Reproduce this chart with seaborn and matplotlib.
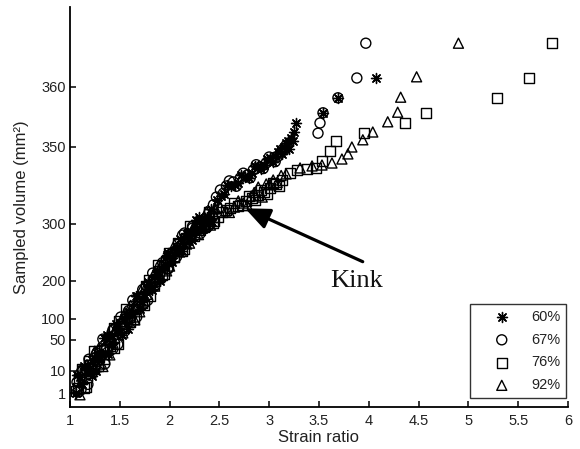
import numpy as np
import pandas as pd
import matplotlib
matplotlib.use("Agg")
import matplotlib.pyplot as plt
import seaborn as sns

# ---------------- data ----------------
labels = ["60%", "67%", "76%", "92%"]

# 60 %
x60 = [1.07, 1.12, 1.17, 1.22, 1.27, 1.32, 1.37, 1.42, 1.47, 1.52, 1.57, 1.62, 1.67, 1.72,
       1.77, 1.82, 1.87, 1.92, 1.97, 2.02, 2.07, 2.12, 2.17, 2.22, 2.27, 2.32, 2.38, 2.43,
       2.48, 2.55, 2.62, 2.69, 2.76, 2.83, 2.89, 2.95, 3.01, 3.06, 3.11, 3.15, 3.19, 3.22,
       3.25, 3.27, 3.54, 3.69, 4.07]
y60 = [8.3, 4.8, 11.0, 7.9, 33.6, 31.4, 61.7, 45.0, 73.3, 62.6, 114.1, 114.1, 161.1, 145.2,
       179.6, 175.5, 215.2, 218.3, 245.2, 239.3, 257.3, 253.1, 282.2, 282.7, 302.7, 297.0, 304.8, 301.6,
       315.6, 319.5, 324.7, 326.6, 330.5, 333.1, 337.7, 338.3, 342.9, 344.2, 348.7, 350.0, 351.0, 351.5,
       352.5, 354.0, 355.7, 358.2, 361.5]
x60_band = [1.06, 1.10, 1.14, 1.18, 1.22, 1.26, 1.30, 1.34, 1.38, 1.42, 1.46, 1.50, 1.54, 1.58,
            1.62, 1.66, 1.70, 1.74, 1.78, 1.82, 1.86, 1.90, 1.94, 1.98, 2.02, 2.06, 2.10, 2.14,
            2.18, 2.22, 2.26, 2.30, 2.34, 2.38, 2.42,
            2.52, 2.58, 2.66, 2.72, 2.80, 2.86, 2.92, 2.98, 3.04, 3.09, 3.13, 3.17, 3.20, 3.24]
y60_band = [1.3, 7.4, 16.9, 11.5, 24.5, 9.9, 27.5, 54.6, 31.3, 59.6, 87.4, 69.5, 102.3, 76.5,
            114.7, 160.4, 125.8, 165.3, 197.3, 183.4, 211.7, 200.2, 223.7, 249.0, 233.2, 254.6, 272.7, 265.0,
            283.7, 271.0, 288.4, 304.8, 291.0, 302.6, 309.9,
            318.5, 325.0, 325.5, 331.5, 329.8, 337.5, 335.5, 342.0, 340.5, 347.0, 345.5, 350.6, 349.0, 351.0]

# 67 %
x67 = [1.08, 1.13, 1.18, 1.23, 1.28, 1.33, 1.38, 1.43, 1.48, 1.53, 1.58, 1.63, 1.68, 1.73,
       1.78, 1.83, 1.88, 1.93, 1.98, 2.03, 2.08, 2.13, 2.18, 2.23, 2.29, 2.34, 2.39, 2.44,
       2.51, 2.57, 2.64, 2.71, 2.78, 2.84, 2.91, 2.97, 3.03, 3.08, 3.13, 3.17, 3.49, 3.51,
       3.54, 3.69, 3.88, 3.97]
y67 = [1.5, 11.3, 4.6, 19.5, 22.6, 52.1, 34.5, 73.8, 44.4, 88.6, 96.4, 149.1, 124.0, 177.0,
       148.8, 197.9, 201.8, 231.9, 220.6, 247.6, 252.9, 280.4, 268.3, 295.8, 293.3, 302.0, 302.7, 312.5,
       322.1, 324.7, 327.3, 329.9, 331.8, 335.1, 337.0, 339.6, 341.6, 343.5, 348.1, 350.3, 352.3, 354.0,
       355.7, 358.2, 361.5, 367.3]
x67_band = [1.07, 1.11, 1.15, 1.19, 1.23, 1.27, 1.31, 1.35, 1.39, 1.43, 1.47, 1.51, 1.55, 1.59,
            1.63, 1.67, 1.71, 1.75, 1.79, 1.83, 1.87, 1.91, 1.95, 1.99, 2.03, 2.07, 2.11, 2.15,
            2.19, 2.23, 2.27, 2.31, 2.35, 2.39, 2.43,
            2.47, 2.54, 2.60, 2.67, 2.74, 2.81, 2.87, 2.94, 3.00, 3.06, 3.11, 3.15]
y67_band = [5.5, 2.4, 9.9, 25.2, 13.3, 33.2, 30.6, 19.2, 54.1, 38.5, 63.9, 105.2, 78.8, 122.1,
            121.4, 105.2, 157.4, 142.0, 175.0, 213.4, 197.7, 225.6, 227.8, 221.7, 249.8, 242.2, 260.5, 284.1,
            271.8, 292.8, 291.1, 283.7, 300.9, 296.3, 304.4,
            317.5, 320.0, 328.0, 324.5, 333.0, 330.0, 338.5, 336.0, 343.5, 340.5, 346.0, 348.0]

# 76 %
x76 = [1.06, 1.09, 1.14, 1.19, 1.24, 1.29, 1.34, 1.39, 1.44, 1.49, 1.54, 1.59, 1.64, 1.69,
       1.74, 1.79, 1.84, 1.89, 1.94, 1.99, 2.04, 2.09, 2.14, 2.19, 2.24, 2.30, 2.35, 2.40, 2.45,
       2.53, 2.61, 2.69, 2.77, 2.83, 2.89, 2.95, 3.01, 3.07, 3.13, 3.21, 3.28, 3.38, 3.47,
       3.53, 3.61, 3.67, 3.95, 4.36, 4.57, 5.29, 5.61, 5.84]
y76 = [1.9, 6.3, 3.1, 23.5, 12.3, 28.1, 25.9, 51.4, 39.4, 96.4, 77.6, 106.0, 101.3, 152.7,
       137.1, 201.8, 190.1, 217.1, 212.2, 248.7, 241.8, 258.2, 255.6, 283.1, 282.0, 297.9, 294.6, 306.5, 301.8,
       307.8, 310.4, 311.7, 314.9, 316.9, 318.8, 320.8, 323.4, 326.0, 328.6, 333.1, 335.1, 335.7, 336.4,
       340.9, 347.4, 351.0, 352.3, 354.0, 355.7, 358.2, 361.5, 367.3]
x76_band = [1.08, 1.12, 1.16, 1.20, 1.24, 1.28, 1.32, 1.36, 1.40, 1.44, 1.48, 1.52, 1.56, 1.60,
            1.64, 1.68, 1.72, 1.76, 1.80, 1.84, 1.88, 1.92, 1.96, 2.00, 2.04, 2.08, 2.12, 2.16,
            2.20, 2.24, 2.28, 2.32, 2.36, 2.40, 2.44,
            2.49, 2.57, 2.65, 2.73, 2.80, 2.86, 2.92, 2.98, 3.04, 3.10]
y76_band = [3.0, 13.1, 3.7, 18.1, 36.0, 16.6, 37.4, 37.8, 42.4, 78.2, 45.1, 87.5, 126.0, 92.2,
            134.3, 133.8, 142.6, 187.2, 158.9, 199.8, 227.0, 210.4, 235.2, 236.4, 242.6, 266.6, 251.6, 275.1,
            297.0, 278.6, 296.3, 293.8, 296.4, 308.0, 300.7,
            304.5, 309.2, 313.8, 312.5, 318.0, 315.8, 322.0, 319.5, 326.8, 324.6]

# 92 %
x92 = [1.10, 1.15, 1.20, 1.25, 1.30, 1.35, 1.40, 1.45, 1.50, 1.55, 1.60, 1.65, 1.70, 1.75,
       1.80, 1.85, 1.90, 1.95, 2.00, 2.05, 2.10, 2.15, 2.20, 2.25, 2.31, 2.36, 2.41, 2.46,
       2.56, 2.65, 2.74, 2.82, 2.89, 2.97, 3.04, 3.17, 3.31, 3.43, 3.53, 3.63, 3.73, 3.79,
       3.83, 3.94, 4.04, 4.19, 4.29, 4.32, 4.48, 4.90]
y92 = [0.4, 11.2, 10.8, 35.7, 18.9, 42.0, 30.8, 73.6, 72.9, 116.4, 91.7, 134.7, 118.8, 178.3,
       181.2, 214.8, 205.3, 230.5, 225.8, 256.4, 250.6, 273.4, 266.2, 296.8, 288.9, 303.8, 298.1, 310.1,
       308.4, 311.0, 313.6, 318.2, 324.0, 326.0, 328.6, 332.5, 336.4, 337.7, 338.3, 339.6, 342.2, 345.5,
       350.0, 351.2, 352.5, 354.2, 355.8, 358.3, 361.7, 367.3]
x92_band = [1.09, 1.13, 1.17, 1.21, 1.25, 1.29, 1.33, 1.37, 1.41, 1.45, 1.49, 1.53, 1.57, 1.61,
            1.65, 1.69, 1.73, 1.77, 1.81, 1.85, 1.89, 1.93, 1.97, 2.01, 2.05, 2.09, 2.13, 2.17,
            2.21, 2.25, 2.29, 2.33, 2.37, 2.41, 2.45,
            2.51, 2.60, 2.69, 2.78, 2.85, 2.93, 3.00, 3.08, 3.12]
y92_band = [10.4, 7.3, 18.1, 9.1, 22.7, 39.7, 15.8, 48.8, 74.3, 56.3, 87.6, 66.9, 100.0, 135.6,
            97.8, 150.0, 183.1, 164.5, 198.6, 185.8, 212.5, 233.7, 217.3, 245.0, 263.8, 254.5, 274.2, 264.7,
            282.9, 297.9, 281.3, 299.1, 308.0, 302.1, 309.8,
            311.0, 307.5, 315.0, 312.0, 320.5, 317.5, 325.5, 327.0, 331.5]

xticks = [1, 1.5, 2, 2.5, 3, 3.5, 4, 4.5, 5, 5.5, 6]
xtick_labels = ["1", "1.5", "2", "2.5", "3", "3.5", "4", "4.5", "5", "5.5", "6"]
ytick_vals = [1, 10, 50, 100, 200, 300, 350, 360]
ytick_labels = ["1", "10", "50", "100", "200", "300", "350", "360"]

# ---------------- non-linear y scale (layout of the reference axis) ----------------
_scale_vals = np.array([-100.0, 1, 10, 50, 100, 200, 300, 350, 360, 1000])
_scale_pos = np.array([-236.9, 13.4, 35.7, 66.7, 87.7, 126.0, 182.7, 259.7, 319.7, 4159.7])


def fwd(v):
    return np.interp(np.asarray(v, dtype=float), _scale_vals, _scale_pos)


def inv(p):
    return np.interp(np.asarray(p, dtype=float), _scale_pos, _scale_vals)


# ---------------- figure ----------------
sns.set_theme(style="white")
plt.rcParams["font.family"] = ["Liberation Sans", "DejaVu Sans"]

fig = plt.figure(figsize=(5.80, 4.49), dpi=100)
ax = fig.add_axes([70 / 580, 1 - 406.7 / 449, 498 / 580, 399.7 / 449])
ax.set_yscale("function", functions=(fwd, inv))

series = [
    (labels[0], x60 + x60_band, y60 + y60_band, (8, 2, 0)),
    (labels[1], x67 + x67_band, y67 + y67_band, "o"),
    (labels[2], x76 + x76_band, y76 + y76_band, "s"),
    (labels[3], x92 + x92_band, y92 + y92_band, "^"),
]
for lab, xs, ys, mk in series:
    df = pd.DataFrame({"Strain ratio": xs, "Sampled volume": ys})
    if mk in ("o", "s", "^"):
        sns.scatterplot(data=df, x="Strain ratio", y="Sampled volume", marker=mk, s=52,
                        facecolors="none", edgecolor="black", linewidth=1.0,
                        ax=ax, label=lab, legend=False, zorder=3)
    else:
        sns.scatterplot(data=df, x="Strain ratio", y="Sampled volume", marker=mk, s=52,
                        color="black", linewidth=1.0, ax=ax, label=lab, legend=False, zorder=3)

ax.set_xlim(1, 6)
ax.set_ylim(inv(0.0), inv(399.7))
ax.set_xticks(xticks)
ax.set_xticklabels(xtick_labels)
ax.set_yticks(ytick_vals)
ax.set_yticklabels(ytick_labels)
ax.minorticks_off()

for side in ("top", "right"):
    ax.spines[side].set_visible(False)
for side in ("left", "bottom"):
    ax.spines[side].set_color("black")
    ax.spines[side].set_linewidth(1.3)
ax.tick_params(axis="both", direction="in", length=4, width=1.1, colors="black",
               labelsize=10.5, pad=5, left=True, bottom=True)
ax.tick_params(axis="y", pad=3)
for t in ax.get_xticklabels() + ax.get_yticklabels():
    t.set_color("#222222")

ax.set_xlabel("Strain ratio", fontsize=12, color="#222222", labelpad=2)
ax.set_ylabel("Sampled volume (mm²)", fontsize=12, color="#222222", labelpad=9)

# annotation
ax.annotate("", xy=(0.3514, 0.4964), xycoords="axes fraction",
            xytext=(0.5878, 0.3628), textcoords="axes fraction",
            arrowprops=dict(arrowstyle="-|>,head_length=0.75,head_width=0.32",
                            mutation_scale=20, lw=2.3, color="black",
                            shrinkA=0, shrinkB=0))
ax.text(0.5763, 0.3145, "Kink", transform=ax.transAxes, fontsize=19,
        family=["Liberation Serif", "DejaVu Serif"], ha="center", va="center", color="#111111")

leg = ax.legend(loc="lower right", bbox_to_anchor=(0.996, 0.0218), frameon=True,
                fancybox=False, edgecolor="black", fontsize=10.5, handlelength=3.6,
                handletextpad=0.2, labelspacing=0.6, borderpad=0.4, borderaxespad=0)
leg.get_frame().set_linewidth(1.0)
for t in leg.get_texts():
    t.set_color("#222222")

fig.savefig("out.png", dpi=100)
